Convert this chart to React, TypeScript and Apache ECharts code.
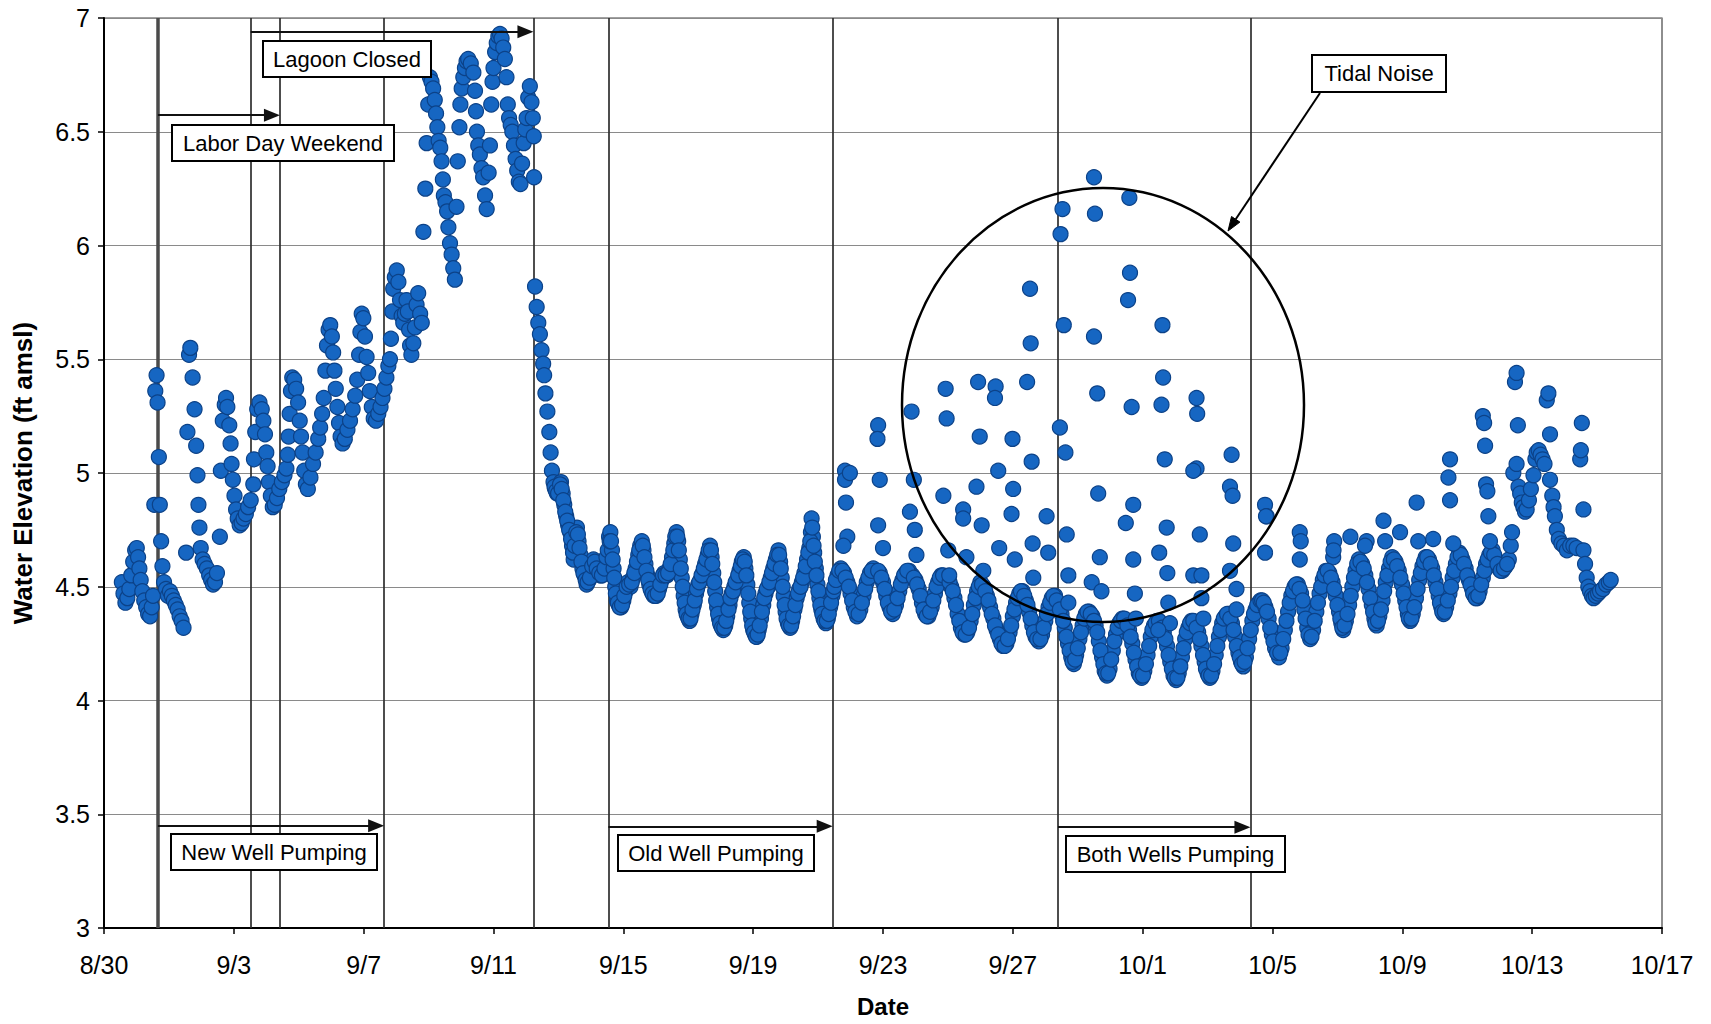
import React, { useEffect, useRef } from "react";
import * as echarts from "echarts";

// X axis: days after 8/30 (0 = 8/30 00:00)
const tickLabels = ["8/30", "9/3", "9/7", "9/11", "9/15", "9/19", "9/23", "9/27", "10/1", "10/5", "10/9", "10/13", "10/17"];

// Water elevation readings [day, ft amsl]
const preClosurePts: number[][] = [
  [0.55,4.52],[0.6,4.47],[0.66,4.43],[0.72,4.45],[0.78,4.49],[0.84,4.55],[0.9,4.61],[0.96,4.66],[1.01,4.67],[1.05,4.63],[1.09,4.58],[1.13,4.53],[1.18,4.48],[1.24,4.44],[1.3,4.41],[1.36,4.38],[1.42,4.37],[1.47,4.41],[1.51,4.46],[1.55,4.86],
  [1.58,5.36],[1.62,5.43],[1.65,5.31],[1.69,5.07],[1.72,4.86],[1.76,4.70],[1.8,4.59],[1.85,4.52],[1.91,4.49],[1.97,4.46],[2.03,4.48],[2.09,4.46],[2.15,4.44],[2.21,4.42],[2.27,4.40],[2.33,4.37],[2.39,4.35],[2.45,4.32],
  [2.53,4.65],[2.57,5.18],[2.62,5.52],[2.66,5.55],[2.73,5.42],[2.79,5.28],[2.84,5.12],[2.88,4.99],[2.91,4.86],[2.94,4.76],[2.98,4.67],[3.04,4.62],[3.1,4.60],[3.17,4.58],[3.24,4.55],[3.3,4.53],[3.36,4.51],[3.42,4.52],[3.48,4.56],
  [3.57,4.72],[3.6,5.01],[3.66,5.23],[3.72,5.30],[3.76,5.33],[3.8,5.29],[3.86,5.21],[3.9,5.13],[3.93,5.04],[3.97,4.97],[4.02,4.90],[4.07,4.84],[4.12,4.80],[4.18,4.77],[4.24,4.78],[4.3,4.80],[4.37,4.82],[4.44,4.85],[4.52,4.88],
  [4.6,4.95],[4.62,5.06],[4.66,5.18],[4.72,5.28],[4.79,5.31],[4.86,5.28],[4.91,5.23],[4.96,5.17],[5.0,5.09],[5.04,5.03],[5.08,4.96],[5.14,4.90],[5.2,4.85],[5.26,4.86],[5.33,4.89],[5.4,4.93],[5.48,4.96],[5.56,4.99],
  [5.62,5.02],[5.66,5.08],[5.69,5.16],[5.72,5.26],[5.76,5.36],[5.8,5.42],[5.86,5.41],[5.92,5.37],[5.98,5.31],[6.03,5.23],[6.07,5.16],[6.12,5.09],[6.17,5.01],[6.22,4.95],[6.28,4.93],[6.36,4.98],[6.44,5.04],[6.52,5.09],[6.6,5.15],[6.66,5.20],
  [6.72,5.26],[6.77,5.33],[6.82,5.45],[6.87,5.56],[6.92,5.63],[6.97,5.65],[7.02,5.60],[7.06,5.53],[7.1,5.45],[7.14,5.37],[7.19,5.29],[7.24,5.22],[7.29,5.16],[7.35,5.13],[7.42,5.15],[7.5,5.19],[7.58,5.23],[7.66,5.28],[7.74,5.34],[7.8,5.41],
  [7.86,5.52],[7.9,5.62],[7.94,5.70],[7.99,5.68],[8.04,5.60],[8.09,5.51],[8.14,5.44],[8.19,5.36],[8.25,5.29],[8.31,5.24],[8.38,5.23],[8.45,5.26],[8.52,5.29],[8.58,5.33],[8.64,5.37],[8.7,5.42],[8.76,5.47]
];

const lagoonClosedPts: number[][] = [
  [8.81,5.50],[8.84,5.59],[8.88,5.71],[8.91,5.81],[8.96,5.86],[9.02,5.89],[9.07,5.84],[9.12,5.76],[9.17,5.69],[9.22,5.66],[9.27,5.70],[9.32,5.76],[9.36,5.71],[9.4,5.63],[9.43,5.56],[9.47,5.52],[9.53,5.57],[9.58,5.64],[9.63,5.74],[9.68,5.79],[9.74,5.70],[9.79,5.66],
  [9.84,6.06],[9.9,6.25],[9.94,6.45],[9.99,6.62],[10.04,6.74],[10.09,6.72],[10.14,6.69],[10.19,6.64],[10.23,6.58],[10.27,6.52],[10.31,6.46],[10.36,6.43],[10.4,6.37],[10.44,6.29],[10.47,6.22],[10.52,6.19],[10.57,6.15],[10.61,6.08],[10.66,6.01],[10.71,5.96],[10.76,5.90],[10.81,5.85],
  [10.86,6.17],[10.9,6.37],[10.95,6.52],[10.98,6.62],[11.02,6.69],[11.07,6.74],[11.12,6.78],[11.17,6.81],[11.22,6.82],[11.3,6.80],[11.38,6.76],[11.43,6.68],[11.46,6.59],[11.49,6.50],[11.53,6.44],[11.58,6.40],[11.63,6.34],[11.68,6.30],[11.74,6.22],[11.79,6.16],
  [11.85,6.32],[11.89,6.44],[11.93,6.62],[11.97,6.72],[12.0,6.78],[12.05,6.85],[12.1,6.89],[12.15,6.92],[12.2,6.93],[12.25,6.91],[12.3,6.87],[12.35,6.82],[12.4,6.74],[12.44,6.62],[12.48,6.56],[12.53,6.53],[12.58,6.50],[12.63,6.44],[12.68,6.38],[12.73,6.33],[12.78,6.28],[12.83,6.27],
  [12.88,6.36],[12.93,6.45],[12.98,6.51],[13.02,6.56],[13.07,6.65],[13.12,6.70],[13.17,6.63],[13.21,6.56],[13.24,6.48],[13.25,6.30]
];

const recessionPts: number[][] = [
  [13.28,5.82],[13.33,5.73],[13.38,5.66],[13.43,5.61],[13.48,5.54],[13.53,5.48],[13.56,5.43],[13.6,5.35],[13.66,5.27],[13.72,5.18],[13.76,5.09],[13.8,5.01],[13.85,4.96],[13.9,4.93],[13.96,4.91],[14.02,4.93],[14.08,4.96],[14.13,4.91],[14.18,4.86],[14.24,4.81],
  [14.3,4.77],[14.36,4.74],[14.42,4.68],[14.47,4.62],[14.52,4.72],[14.57,4.76],[14.62,4.70],[14.68,4.64],[14.74,4.58],[14.8,4.55],[14.87,4.51],[14.94,4.53],[15.0,4.56],[15.08,4.62],[15.15,4.60],[15.22,4.57],[15.3,4.55],[15.38,4.56],[15.45,4.61],
  [13.88,4.94],[13.93,4.92],[13.99,4.91],[14.05,4.95],[14.1,4.93],[14.15,4.88],[14.21,4.83],[14.27,4.79],[14.33,4.75],[14.39,4.71],[14.45,4.65],[14.5,4.68],[14.55,4.74],[14.6,4.73],[14.65,4.67],[14.71,4.61],[14.77,4.56],[14.84,4.53],[14.9,4.52],[14.97,4.54],[15.04,4.59],[15.12,4.61],[15.18,4.58],[15.26,4.56],[15.34,4.55],[15.42,4.58],[15.48,4.63]
];

const oldWellPts: number[][] = [
  [15.52,4.66],[15.56,4.72],[15.6,4.74],[15.65,4.66],[15.7,4.58],[15.75,4.50],[15.8,4.44],[15.86,4.42],[15.93,4.41],[16.0,4.44],[16.07,4.48],[16.14,4.52],[16.22,4.50],[16.3,4.54],[16.38,4.58],[16.46,4.64],[16.52,4.68],
  [16.57,4.70],[16.62,4.66],[16.68,4.60],[16.74,4.55],[16.8,4.51],[16.87,4.48],[16.94,4.46],[17.02,4.46],[17.1,4.49],[17.18,4.53],[17.26,4.56],[17.34,4.55],[17.42,4.58],[17.5,4.63],[17.57,4.69],
  [17.64,4.74],[17.69,4.70],[17.74,4.62],[17.8,4.54],[17.86,4.46],[17.92,4.40],[17.98,4.37],[18.04,4.35],[18.1,4.38],[18.17,4.42],[18.24,4.47],[18.31,4.51],[18.38,4.53],[18.45,4.56],[18.52,4.60],[18.6,4.64],
  [18.67,4.68],[18.72,4.63],[18.77,4.56],[18.83,4.48],[18.89,4.41],[18.95,4.36],[19.01,4.33],[19.08,4.31],[19.14,4.33],[19.2,4.37],[19.27,4.42],[19.34,4.47],[19.42,4.50],[19.5,4.53],[19.58,4.57],[19.65,4.61],
  [19.71,4.63],[19.76,4.58],[19.82,4.51],[19.88,4.43],[19.94,4.36],[20.0,4.31],[20.06,4.29],[20.11,4.28],[20.17,4.31],[20.24,4.36],[20.31,4.42],[20.38,4.47],[20.46,4.50],[20.54,4.54],[20.62,4.58],[20.7,4.62],
  [20.78,4.66],[20.83,4.61],[20.88,4.54],[20.94,4.46],[21.0,4.39],[21.07,4.34],[21.14,4.32],[21.2,4.35],[21.27,4.40],[21.34,4.45],[21.42,4.49],[21.5,4.52],[21.58,4.56],[21.66,4.62],[21.73,4.67],[21.78,4.74],[21.8,4.80],
  [21.84,4.72],[21.88,4.65],[21.93,4.58],[21.98,4.51],[22.04,4.45],[22.1,4.40],[22.17,4.36],[22.24,4.34],[22.3,4.36],[22.37,4.41],[22.44,4.46],
  [15.58,4.70],[15.62,4.70],[15.67,4.62],[15.72,4.54],[15.77,4.47],[15.83,4.43],[15.89,4.41],[15.96,4.42],[16.03,4.46],[16.1,4.50],[16.18,4.51],[16.26,4.52],[16.34,4.56],[16.42,4.61],[16.49,4.66],
  [16.6,4.68],[16.65,4.63],[16.71,4.57],[16.77,4.53],[16.84,4.49],[16.9,4.47],[16.98,4.46],[17.06,4.47],[17.14,4.51],[17.22,4.55],[17.3,4.55],[17.38,4.56],[17.46,4.60],[17.54,4.66],[17.6,4.72],
  [17.66,4.72],[17.71,4.66],[17.77,4.58],[17.83,4.50],[17.89,4.43],[17.95,4.38],[18.01,4.36],[18.07,4.36],[18.13,4.40],[18.2,4.44],[18.27,4.49],[18.34,4.52],[18.41,4.55],[18.48,4.58],[18.56,4.62],[18.63,4.66],
  [18.7,4.66],[18.74,4.60],[18.8,4.52],[18.86,4.44],[18.92,4.38],[18.98,4.34],[19.04,4.32],[19.11,4.32],[19.17,4.35],[19.24,4.40],[19.3,4.45],[19.38,4.48],[19.46,4.52],[19.54,4.55],[19.62,4.59],[19.68,4.62],
  [19.74,4.61],[19.79,4.55],[19.85,4.47],[19.91,4.39],[19.97,4.33],[20.03,4.30],[20.09,4.28],[20.14,4.29],[20.2,4.33],[20.27,4.39],[20.34,4.45],[20.42,4.49],[20.5,4.52],[20.58,4.56],[20.66,4.60],[20.74,4.64],
  [20.8,4.64],[20.85,4.58],[20.91,4.50],[20.97,4.42],[21.03,4.36],[21.1,4.33],[21.17,4.33],[21.23,4.37],[21.3,4.42],[21.38,4.47],[21.46,4.50],[21.54,4.54],[21.62,4.59],[21.7,4.65],[21.76,4.70],
  [21.82,4.76],[21.86,4.68],[21.9,4.61],[21.95,4.55],[22.01,4.48],[22.07,4.42],[22.13,4.38],[22.2,4.35],[22.27,4.35],[22.33,4.38],[22.4,4.43],[22.47,4.48]
];

const bothWellsBandPts: number[][] = [
  [22.5,4.50],[22.6,4.55],[22.7,4.58],[22.8,4.56],[22.9,4.52],[23.0,4.47],[23.1,4.41],[23.2,4.37],[23.3,4.40],[23.4,4.46],[23.5,4.52],[23.6,4.56],[23.7,4.58],
  [23.8,4.57],[23.9,4.56],[24.0,4.52],[24.1,4.46],[24.2,4.41],[24.3,4.38],[24.4,4.42],[24.5,4.48],[24.6,4.53],[24.7,4.56],[24.8,4.57],
  [24.9,4.55],[25.0,4.53],[25.1,4.49],[25.2,4.43],[25.3,4.38],[25.4,4.37],[25.5,4.41],[25.6,4.47],[25.7,4.52],[25.8,4.55],[25.9,4.54],
  [26.0,4.53],[26.1,4.50],[26.2,4.45],[26.3,4.38],[26.4,4.32],[26.5,4.29],[26.6,4.30],[26.7,4.35],[26.8,4.42],[26.9,4.48],[27.0,4.52],[27.1,4.50],
  [27.2,4.46],[27.3,4.41],[27.4,4.36],[27.5,4.31],[27.6,4.27],[27.7,4.24],[27.8,4.25],[27.9,4.30],[28.0,4.37],[28.1,4.43],[28.2,4.47],[28.3,4.48],
  [28.4,4.44],[28.5,4.39],[28.6,4.33],[28.7,4.28],[28.8,4.26],[28.9,4.29],[29.0,4.35],[29.1,4.41],[29.2,4.45],[29.3,4.46],
  [29.4,4.42],[29.5,4.38],[29.6,4.32],[29.7,4.25],[29.8,4.19],[29.88,4.16],[29.95,4.20],[30.05,4.27],[30.15,4.33],[30.25,4.38],[30.35,4.39],
  [30.45,4.37],[30.55,4.33],[30.65,4.26],[30.75,4.19],[30.83,4.13],[30.9,4.11],[30.98,4.14],[31.08,4.22],[31.18,4.29],[31.28,4.34],[31.38,4.36],
  [31.48,4.35],[31.58,4.31],[31.68,4.25],[31.78,4.18],[31.88,4.12],[31.97,4.10],[32.05,4.13],[32.15,4.20],[32.25,4.28],[32.35,4.33],[32.45,4.35],
  [32.55,4.34],[32.65,4.30],[32.75,4.24],[32.85,4.17],[32.95,4.11],[33.03,4.09],[33.11,4.12],[33.21,4.19],[33.31,4.27],[33.41,4.32],[33.51,4.35],
  [33.61,4.34],[33.71,4.30],[33.81,4.24],[33.91,4.17],[34.0,4.12],[34.07,4.10],[34.15,4.13],[34.25,4.20],[34.35,4.28],[34.45,4.34],[34.55,4.37],
  [34.65,4.38],[34.75,4.34],[34.85,4.28],[34.95,4.21],[35.03,4.17],[35.1,4.15],[35.18,4.19],[35.28,4.27],[35.38,4.35],[35.48,4.40],[35.58,4.43],
  [22.55,4.53],[22.65,4.57],[22.75,4.57],[22.85,4.54],[22.95,4.50],[23.05,4.44],[23.15,4.39],[23.25,4.38],[23.35,4.43],[23.45,4.49],[23.55,4.54],[23.65,4.57],
  [23.85,4.57],[23.95,4.54],[24.05,4.49],[24.15,4.43],[24.25,4.39],[24.35,4.40],[24.45,4.45],[24.55,4.51],[24.65,4.55],[24.75,4.57],
  [24.95,4.54],[25.05,4.51],[25.15,4.46],[25.25,4.40],[25.35,4.37],[25.45,4.39],[25.55,4.44],[25.65,4.50],[25.75,4.54],[25.85,4.55],
  [26.05,4.52],[26.15,4.48],[26.25,4.42],[26.35,4.35],[26.45,4.30],[26.55,4.29],[26.65,4.32],[26.75,4.38],[26.85,4.45],[26.95,4.50],[27.05,4.51],
  [27.15,4.48],[27.25,4.44],[27.35,4.38],[27.45,4.33],[27.55,4.29],[27.65,4.25],[27.75,4.24],[27.85,4.27],[27.95,4.33],[28.05,4.40],[28.15,4.45],[28.25,4.48],
  [28.35,4.46],[28.45,4.42],[28.55,4.36],[28.65,4.30],[28.75,4.27],[28.85,4.27],[28.95,4.32],[29.05,4.38],[29.15,4.43],[29.25,4.46],
  [29.35,4.44],[29.45,4.40],[29.55,4.35],[29.65,4.28],[29.75,4.22],[29.84,4.17],[29.92,4.18],[30.0,4.23],[30.1,4.30],[30.2,4.36],[30.3,4.39],[30.4,4.38],
  [30.5,4.35],[30.6,4.30],[30.7,4.22],[30.79,4.16],[30.87,4.12],[30.94,4.12],[31.03,4.18],[31.13,4.26],[31.23,4.32],[31.33,4.35],[31.43,4.36],
  [31.53,4.33],[31.63,4.28],[31.73,4.21],[31.83,4.15],[31.92,4.11],[32.01,4.11],[32.1,4.16],[32.2,4.24],[32.3,4.31],[32.4,4.34],[32.5,4.35],
  [32.6,4.32],[32.7,4.27],[32.8,4.20],[32.9,4.14],[32.99,4.10],[33.07,4.10],[33.16,4.15],[33.26,4.23],[33.36,4.30],[33.46,4.34],[33.56,4.35],
  [33.66,4.32],[33.76,4.27],[33.86,4.20],[33.95,4.14],[34.03,4.11],[34.11,4.11],[34.2,4.16],[34.3,4.24],[34.4,4.31],[34.5,4.36],[34.6,4.38],
  [34.7,4.36],[34.8,4.31],[34.9,4.24],[34.99,4.19],[35.06,4.16],[35.14,4.17],[35.23,4.23],[35.33,4.31],[35.43,4.38],[35.53,4.42],[35.63,4.44]
];

const tidalNoisePts: number[][] = [
  [22.83,5.01],[22.83,4.97],[22.86,4.87],[22.9,4.72],[22.78,4.68],[22.98,5.00],
  [28.53,5.81],[31.61,5.88],[31.55,5.76],[29.57,5.65],[30.50,5.60],[32.61,5.65],[28.55,5.57],[28.44,5.40],[25.93,5.37],[26.93,5.40],
  [27.47,5.38],[27.45,5.33],[30.60,5.35],[31.66,5.29],[32.58,5.30],[32.63,5.42],[33.66,5.33],[33.68,5.26],[24.88,5.27],[25.96,5.24],
  [23.85,5.21],[23.83,5.15],[26.98,5.16],[27.99,5.15],[29.45,5.20],[29.62,5.09],[28.58,5.05],[32.68,5.06],[34.74,5.08],[33.66,5.02],
  [33.56,5.01],[27.55,5.01],[23.90,4.97],[24.95,4.97],[25.86,4.90],[26.88,4.94],[28.01,4.93],[30.63,4.91],[34.69,4.94],[34.77,4.90],
  [35.77,4.86],[35.82,4.81],[26.47,4.84],[26.47,4.80],[24.83,4.83],[24.98,4.75],[23.85,4.77],[27.96,4.82],[29.04,4.81],[31.71,4.86],
  [31.48,4.78],[32.74,4.76],[33.76,4.73],[34.79,4.69],[27.04,4.77],[29.66,4.73],[26.01,4.66],[24.0,4.67],[25.03,4.64],[26.57,4.63],
  [27.58,4.67],[28.06,4.62],[28.61,4.69],[29.09,4.65],[30.68,4.63],[31.71,4.62],[32.51,4.65],[35.77,4.65],[36.84,4.74],[36.84,4.62],
  [37.87,4.63],[26.04,4.55],[27.09,4.57],[28.63,4.54],[29.71,4.55],[30.43,4.52],[32.76,4.56],[33.56,4.55],[33.81,4.55],[34.69,4.57],
  [34.89,4.49],[31.76,4.47],[30.73,4.48],[29.71,4.43],[32.79,4.43],[33.81,4.45],[34.89,4.40],[31.79,4.36],[32.84,4.34],[32.48,4.31],[33.87,4.36],
  [29.53,6.16],[29.47,6.05],[30.5,6.30],[30.53,6.14],[31.59,6.21]
];

const latePts: number[][] = [
  [35.68,4.44],[35.78,4.41],[35.88,4.36],[35.98,4.29],[36.08,4.23],[36.2,4.19],[36.28,4.23],[36.38,4.31],[36.48,4.39],[36.58,4.46],[36.68,4.50],
  [36.78,4.51],[36.88,4.47],[36.98,4.40],[37.07,4.32],[37.16,4.27],[37.25,4.31],[37.35,4.39],[37.45,4.47],[37.55,4.53],[37.65,4.57],
  [37.75,4.56],[37.85,4.52],[37.95,4.46],[38.05,4.39],[38.12,4.34],[38.18,4.31],[38.26,4.35],[38.36,4.42],[38.46,4.50],[38.56,4.57],[38.66,4.62],
  [38.76,4.60],[38.86,4.55],[38.96,4.49],[39.06,4.42],[39.14,4.36],[39.21,4.33],[39.29,4.37],[39.39,4.44],[39.49,4.52],[39.59,4.58],[39.69,4.63],
  [39.79,4.61],[39.89,4.57],[39.99,4.51],[40.09,4.44],[40.17,4.38],[40.24,4.35],[40.32,4.38],[40.42,4.45],[40.52,4.53],[40.62,4.59],[40.72,4.63],
  [40.82,4.62],[40.92,4.58],[41.02,4.52],[41.12,4.46],[41.2,4.41],[41.27,4.38],[41.35,4.41],[41.45,4.47],[41.55,4.54],[41.65,4.60],[41.75,4.65],
  [41.85,4.62],[41.95,4.58],[42.05,4.53],[42.15,4.49],[42.22,4.46],[42.3,4.45],[42.38,4.48],[42.48,4.54],[42.58,4.60],[42.68,4.64],[42.78,4.66],[42.88,4.62],[42.98,4.58],[43.08,4.57],[43.18,4.59],[43.28,4.62],
  [35.73,4.43],[35.83,4.39],[35.93,4.32],[36.03,4.26],[36.14,4.21],[36.24,4.21],[36.33,4.27],[36.43,4.35],[36.53,4.43],[36.63,4.48],[36.73,4.51],
  [36.83,4.49],[36.93,4.44],[37.02,4.36],[37.11,4.29],[37.2,4.28],[37.3,4.35],[37.4,4.43],[37.5,4.50],[37.6,4.55],[37.7,4.57],
  [37.8,4.54],[37.9,4.49],[38.0,4.42],[38.09,4.36],[38.15,4.32],[38.22,4.33],[38.31,4.38],[38.41,4.46],[38.51,4.54],[38.61,4.60],[38.71,4.61],
  [38.81,4.58],[38.91,4.52],[39.01,4.45],[39.1,4.39],[39.17,4.34],[39.25,4.35],[39.34,4.40],[39.44,4.48],[39.54,4.55],[39.64,4.61],[39.74,4.62],
  [39.84,4.59],[39.94,4.54],[40.04,4.47],[40.13,4.41],[40.2,4.36],[40.28,4.36],[40.37,4.41],[40.47,4.49],[40.57,4.56],[40.67,4.61],[40.77,4.63],
  [40.87,4.60],[40.97,4.55],[41.07,4.49],[41.16,4.43],[41.23,4.39],[41.31,4.39],[41.4,4.44],[41.5,4.50],[41.6,4.57],[41.7,4.63],[41.8,4.64],
  [41.9,4.60],[42.0,4.55],[42.1,4.51],[42.18,4.47],[42.26,4.45],[42.34,4.46],[42.43,4.51],[42.53,4.57],[42.63,4.62],[42.73,4.65],[42.83,4.64],[42.93,4.60],[43.03,4.57],[43.13,4.58],[43.23,4.60],
  [35.8,4.81],[36.87,4.70],[37.9,4.70],[37.88,4.66],[38.4,4.72],[38.9,4.70],[38.85,4.68],[39.42,4.79],[39.47,4.70],[39.93,4.74],[40.44,4.87],[40.49,4.70],[40.95,4.71],
  [41.42,4.98],[41.47,5.06],[41.47,4.88],[41.57,4.69],[42.48,5.25],[42.52,5.22],[42.55,5.12],[42.58,4.95],[42.62,4.92],[42.65,4.81],[42.7,4.70],
  [43.34,4.68],[43.38,4.74],[43.42,5.00],[43.47,5.40],[43.52,5.44],[43.52,5.04],[43.56,5.21],[43.58,4.94],[43.63,4.91],[43.68,4.87],[43.73,4.85],[43.78,4.83],[43.83,4.84],[43.9,4.88],[43.96,4.93],
  [44.04,4.99],[44.1,5.06],[44.14,5.09],[44.2,5.10],[44.26,5.08],[44.32,5.06],[44.38,5.04],[44.45,5.32],[44.5,5.35],[44.55,5.17],[44.55,4.97],[44.62,4.90],[44.66,4.85],[44.7,4.81],[44.76,4.75],
  [44.82,4.71],[44.9,4.69],[44.98,4.68],[45.07,4.66],[45.17,4.68],[45.27,4.68],[45.37,4.67],[45.48,5.06],[45.5,5.10],[45.53,5.22],[45.58,4.84],[45.58,4.66],[45.63,4.60],[45.68,4.54],
  [45.73,4.50],[45.78,4.48],[45.84,4.46],[45.89,4.45],[45.96,4.46],[46.03,4.47],[46.09,4.48],[46.18,4.49],[46.28,4.51],[46.36,4.52],[46.42,4.53]
];

// Event lines (days after 8/30) and annotation arrows
const eventDays = [1.66, 4.52, 5.42, 8.63, 13.23, 15.54, 22.45, 29.39, 35.32];
const arrowSpans = [
  { from: 1.66, to: 5.42, level: 6.573 },   // Labor Day Weekend
  { from: 4.52, to: 13.23, level: 6.94 },   // Lagoon Closed
  { from: 1.66, to: 8.63, level: 3.45 },    // New Well Pumping
  { from: 15.54, to: 22.45, level: 3.447 }, // Old Well Pumping
  { from: 29.39, to: 35.32, level: 3.443 }  // Both Wells Pumping
];
const annotationLabels = ["Lagoon Closed", "Labor Day Weekend", "New Well Pumping", "Old Well Pumping", "Both Wells Pumping", "Tidal Noise"];

const FONT = '"Liberation Sans", Arial, sans-serif';

function box(x: number, y: number, w: number, h: number, text: string) {
  return {
    type: "group",
    z: 100,
    children: [
      { type: "rect", z: 100, shape: { x, y, width: w, height: h }, style: { fill: "#ffffff", stroke: "#000000", lineWidth: 2 } },
      {
        type: "text", z: 101, x: x + w / 2, y: y + h / 2,
        style: { text, font: `22px ${FONT}`, fill: "#000000", align: "center", verticalAlign: "middle", textAlign: "center", textVerticalAlign: "middle" }
      }
    ]
  };
}

export default function App() {
  const ref = useRef<HTMLDivElement>(null);
  useEffect(() => {
    if (!ref.current) return;
    const chart = echarts.init(ref.current, undefined, { renderer: "svg" });
    const allPts = [...preClosurePts, ...lagoonClosedPts, ...recessionPts, ...oldWellPts, ...bothWellsBandPts, ...tidalNoisePts, ...latePts];
    const arrowHeadDays = 8 / 32.46;
    chart.setOption({
      animation: false,
      backgroundColor: "#ffffff",
      textStyle: { fontFamily: FONT },
      grid: { left: 104, right: 49, top: 18, bottom: 96, show: true, borderColor: "#444444", borderWidth: 1.2 },
      xAxis: {
        type: "value", min: 0, max: 48, interval: 4,
        name: "Date", nameLocation: "middle", nameGap: 66,
        nameTextStyle: { fontSize: 24, fontWeight: "bold", color: "#000", fontFamily: FONT },
        axisLine: { show: true, onZero: false, lineStyle: { color: "#000", width: 2 } },
        axisTick: { show: true, length: 6, lineStyle: { color: "#000", width: 1.5 } },
        axisLabel: { margin: 24, fontSize: 25, color: "#000", fontFamily: FONT, formatter: (v: number) => tickLabels[Math.round(v / 4)] ?? "" },
        splitLine: { show: false }
      },
      yAxis: {
        type: "value", min: 3, max: 7, interval: 0.5,
        name: "Water Elevation (ft amsl)", nameLocation: "middle", nameGap: 68,
        nameTextStyle: { fontSize: 26, fontWeight: "bold", color: "#000", fontFamily: FONT },
        axisLine: { show: true, onZero: false, lineStyle: { color: "#000", width: 2 } },
        axisTick: { show: true, length: 6, lineStyle: { color: "#000", width: 1.5 } },
        axisLabel: { margin: 14, fontSize: 25, color: "#000", fontFamily: FONT },
        splitLine: { show: true, lineStyle: { color: "#8a8a8a", width: 1 } }
      },
      series: [
        {
          type: "scatter",
          z: 3,
          data: allPts,
          symbol: "circle",
          symbolSize: 15,
          progressive: 0,
          silent: true,
          itemStyle: { color: "#1666c2", borderColor: "#0c4288", borderWidth: 1.2, opacity: 1 },
          markLine: {
            silent: true, z: 1, symbol: ["none", "none"], animation: false,
            label: { show: false },
            data: eventDays.map((d, i) => ({
              xAxis: d,
              lineStyle: { color: i === 0 ? "#4a4a4a" : "#2e2e2e", width: i === 0 ? 3.5 : 1.7, type: "solid" }
            }))
          }
        },
        {
          type: "scatter",
          z: 6,
          data: [],
          silent: true,
          markLine: {
            silent: true, z: 6, symbol: ["none", "triangle"], symbolSize: [13, 16], animation: false,
            label: { show: false },
            lineStyle: { color: "#111111", width: 2.2, type: "solid" },
            itemStyle: { color: "#111111" },
            data: arrowSpans.map((a) => [
              { coord: [a.from, a.level] },
              { coord: [a.to - arrowHeadDays, a.level] }
            ])
          }
        }
      ],
      graphic: [
        box(263, 41, 168, 36, annotationLabels[0]),
        box(172, 125, 222, 36, annotationLabels[1]),
        box(171, 834, 206, 36, annotationLabels[2]),
        box(618, 835, 196, 36, annotationLabels[3]),
        box(1066, 836, 219, 36, annotationLabels[4]),
        box(1312, 55, 134, 37, annotationLabels[5]),
        { type: "ellipse", z: 90, shape: { cx: 1103, cy: 405, rx: 201, ry: 217 }, style: { fill: "none", stroke: "#000", lineWidth: 2.5 } },
        { type: "line", z: 90, shape: { x1: 1320, y1: 93, x2: 1235.7, y2: 219.3 }, style: { stroke: "#000", lineWidth: 2 } },
        { type: "polygon", z: 90, shape: { points: [[1228, 231], [1239.9, 222.1], [1231.5, 216.5]] }, style: { fill: "#000", stroke: "#000", lineWidth: 1 } }
      ]
    });
    return () => chart.dispose();
  }, []);
  return <div ref={ref} style={{ position: "fixed", left: 0, top: 0, width: 1711, height: 1024, background: "#fff" }} />;
}
